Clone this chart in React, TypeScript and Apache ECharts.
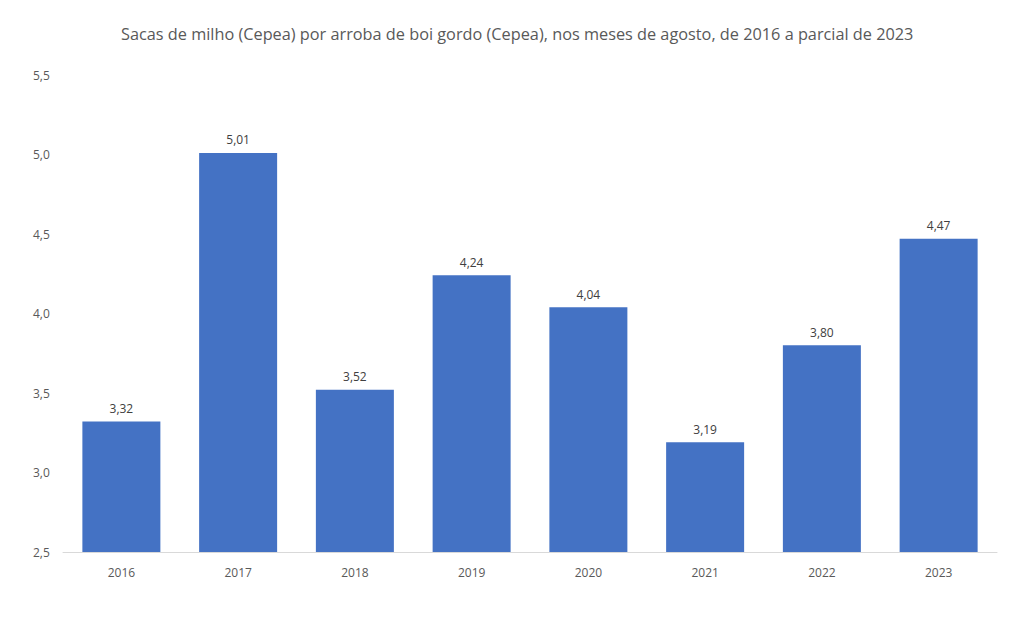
import React, { useEffect, useRef } from "react";
import * as echarts from "echarts";

const categories = ["2016", "2017", "2018", "2019", "2020", "2021", "2022", "2023"];
const values = [3.32, 5.01, 3.52, 4.24, 4.04, 3.19, 3.8, 4.47];
const titleText = "Sacas de milho (Cepea) por arroba de boi gordo (Cepea), nos meses de agosto, de 2016 a parcial de 2023";

const fmt = (v: number, d: number) => v.toFixed(d).replace(".", ",");

export default function App() {
  const ref = useRef<HTMLDivElement>(null);
  useEffect(() => {
    const chart = echarts.init(ref.current!, null, { renderer: "svg" });
    chart.setOption({
      animation: false,
      backgroundColor: "#ffffff",
      title: {
        text: titleText,
        left: 116,
        top: 21,
        textStyle: { fontFamily: "Open Sans", fontSize: 16.3, fontWeight: "normal", color: "#595959" },
      },
      grid: { left: 63, right: 15, top: 75, bottom: 78 },
      xAxis: {
        type: "category",
        data: categories,
        axisLine: { lineStyle: { color: "#d9d9d9" } },
        axisTick: { show: false },
        axisLabel: { fontFamily: "Open Sans", fontSize: 12, color: "#595959", margin: 14 },
      },
      yAxis: {
        type: "value",
        min: 2.5,
        max: 5.5,
        interval: 0.5,
        splitLine: { show: false },
        axisLine: { show: false },
        axisTick: { show: false },
        axisLabel: {
          fontFamily: "Open Sans",
          fontSize: 12,
          color: "#595959",
          margin: 30,
          align: "left",
          formatter: (v: number) => fmt(v, 1),
        },
      },
      series: [
        {
          type: "bar",
          data: values,
          barWidth: 78,
          itemStyle: { color: "#4472C4" },
          label: {
            show: true,
            position: "top",
            distance: 7,
            fontFamily: "Open Sans",
            fontSize: 12,
            color: "#404040",
            formatter: (p: any) => fmt(p.value, 2),
          },
        },
      ],
    });
    return () => chart.dispose();
  }, []);
  return <div ref={ref} style={{ position: "fixed", left: 0, top: 0, width: 1012, height: 630 }} />;
}
